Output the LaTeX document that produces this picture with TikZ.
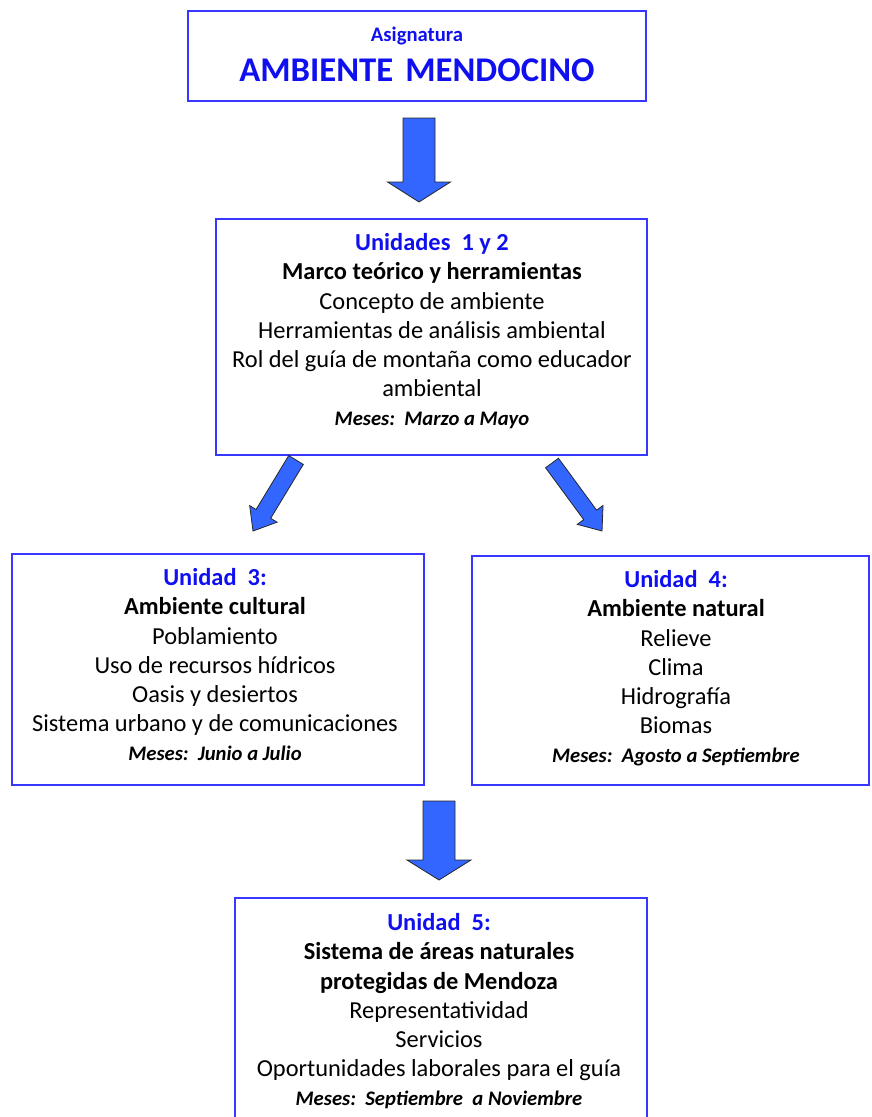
\documentclass[tikz,border=0pt]{standalone}
\usepackage{fontspec}
\setmainfont{Carlito}
\usetikzlibrary{calc,fit}
\definecolor{boxblue}{RGB}{55,55,255}
\definecolor{txtblue}{RGB}{15,15,240}
\definecolor{arrowblue}{RGB}{51,102,255}
\newcommand\unithead[1]{{\color{txtblue}\bfseries #1}}
\newcommand\mesesline[1]{{\fontsize{15.5}{21.9}\selectfont\bfseries\itshape #1}}
\newcommand\blockarrow[5]{%
  \coordinate (#1h) at ($(#2)!#5!(#1)$);
  \filldraw[arrowstyle] ($(#1)!#3!90:(#2)$) -- ($(#1h)!#3!-90:(#1)$) -- ($(#1h)!#4!-90:(#1)$)
    -- (#2) -- ($(#1h)!#4!90:(#1)$) -- ($(#1h)!#3!90:(#1)$) -- ($(#1)!#3!-90:(#2)$) -- cycle;}
\begin{document}
\begin{tikzpicture}[x=0.75pt,y=-0.75pt,
  box/.style={draw=boxblue, line width=1.5pt, inner sep=0pt},
  txt/.style={align=center, inner sep=0pt, anchor=north, font=\fontsize{18.3}{21.9}\selectfont},
  arrowstyle/.style={fill=arrowblue, draw=black!85, line width=0.6pt, line join=miter}]
\useasboundingbox (0,0) rectangle (871,1117);
% boxes
\node[box, fit={(188,11) (646,101)}] (b1) {};
\node[box, fit={(216,219) (647,455)}] (b2) {};
\node[box, fit={(12,554) (424,785)}] (b3) {};
\node[box, fit={(472,556) (869,785)}] (b4) {};
\node[box, fit={(235,898) (647,1130)}] (b5) {};
% texts
\node[txt, font=\fontsize{15.5}{30}\selectfont, text=txtblue] (t1) at (417,13)
  {\strut\bfseries Asignatura\\ {\fontsize{26}{30}\selectfont\bfseries AMBIENTE\hspace{0.35em}MENDOCINO}};
\node[txt] (t2) at (432,230)
  {\strut\unithead{Unidades\ \ 1 y 2}\\ \textbf{Marco teórico y herramientas}\\ Concepto de ambiente\\
   Herramientas de análisis ambiental\\ Rol del guía de montaña como educador\\ ambiental\\
   \mesesline{Meses:\ \ Marzo a Mayo}};
\node[txt] (t3) at (215,565)
  {\strut\unithead{Unidad\ \ 3:}\\ \textbf{Ambiente cultural}\\ Poblamiento\\ Uso de recursos hídricos\\
   Oasis y desiertos\\ Sistema urbano y de comunicaciones\\ \mesesline{Meses:\ \ Junio a Julio}};
\node[txt] (t4) at (676,567)
  {\strut\unithead{Unidad\ \ 4:}\\ \textbf{Ambiente natural}\\ Relieve\\ Clima\\ Hidrografía\\ Biomas\\
   \mesesline{Meses:\ \ Agosto a Septiembre}};
\node[txt] (t5) at (439,910)
  {\strut\unithead{Unidad\ \ 5:}\\ \textbf{Sistema de áreas naturales}\\ \textbf{protegidas de Mendoza}\\
   Representatividad\\ Servicios\\ Oportunidades laborales para el guía\\
   \mesesline{Meses:\ \ Septiembre\ \ a Noviembre}};
% arrows
\coordinate (a1s) at ($(b1.south)+(2,16)$);
\coordinate (a1e) at ($(b2.north)+(-12.5,-16)$);
\coordinate (a2s) at ($(b2.south)+(-135.5,4)$);
\coordinate (a2e) at ($(b3.north)+(35,-22)$);
\coordinate (a3s) at ($(b2.south)+(120.5,7)$);
\coordinate (a3e) at ($(b4.north)+(-68.5,-24)$);
\coordinate (a4s) at ($(b5.north)+(-2,-96)$);
\coordinate (a4e) at ($(b5.north)+(-2,-17)$);
\blockarrow{a1s}{a1e}{12pt}{23.6pt}{15pt}
\blockarrow{a2s}{a2e}{6.4pt}{12pt}{15pt}
\blockarrow{a3s}{a3e}{6pt}{12pt}{15pt}
\blockarrow{a4s}{a4e}{12pt}{24pt}{15pt}
\end{tikzpicture}
\end{document}
